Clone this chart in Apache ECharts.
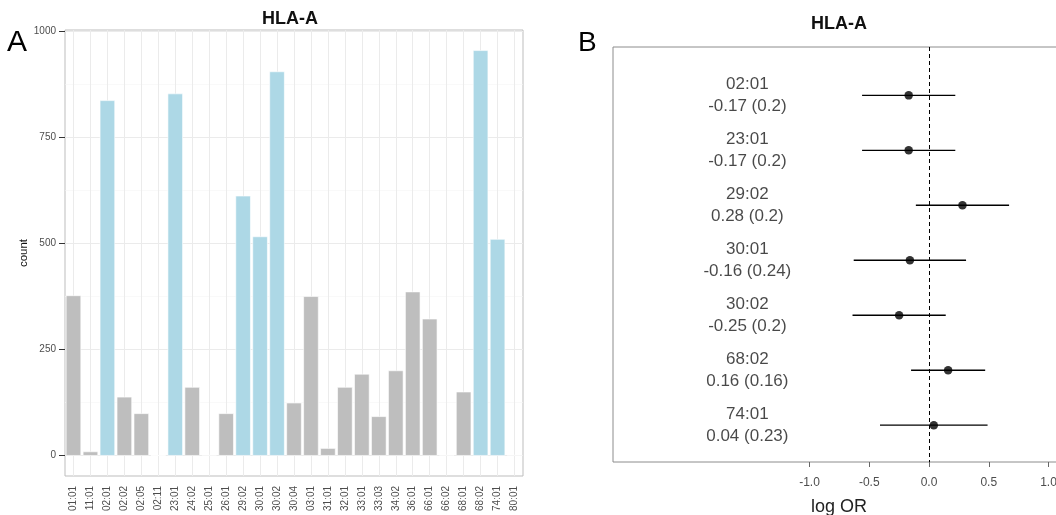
<!DOCTYPE html>
<html><head><meta charset="utf-8">
<script src="https://cdn.jsdelivr.net/npm/echarts@6/dist/echarts.min.js"></script>
<style>html,body{margin:0;padding:0;background:#fff}#c{width:1056px;height:515px}</style>
</head><body><div id="c"></div>
<script>
// ---- Panel A: allele counts ----
const categories = ['01:01','11:01','02:01','02:02','02:05','02:11','23:01','24:02','25:01','26:01','29:02','30:01','30:02','30:04','03:01','31:01','32:01','33:01','33:03','34:02','36:01','66:01','66:02','68:01','68:02','74:01','80:01'];
const counts = [378,10,838,139,100,1,854,162,2,100,613,517,906,125,376,18,162,193,93,201,387,323,2,151,956,511,2];
const highlighted = ['02:01','23:01','29:02','30:01','30:02','68:02','74:01'];
const countTicks = [0,250,500,750,1000];
const countMinorLines = [125,375,625,875];

// ---- Panel B: forest plot ----
const alleles = ['02:01','23:01','29:02','30:01','30:02','68:02','74:01'];
const logOR = [-0.17,-0.17,0.28,-0.16,-0.25,0.16,0.04];
const se = [0.2,0.2,0.2,0.24,0.2,0.16,0.23];
const ciLow = [-0.56,-0.56,-0.11,-0.63,-0.64,-0.15,-0.41];
const ciHigh = [0.22,0.22,0.67,0.31,0.14,0.47,0.49];
const orTicks = [-1.0,-0.5,0.0,0.5,1.0];

const FONT = '"Liberation Sans", Arial, Helvetica, sans-serif';
const labelX = -1.52;

const chart = echarts.init(document.getElementById('c'), null, {renderer: 'canvas'});

const gridLineData = []
  .concat(countTicks.map(v => ({yAxis: v, lineStyle: {color: '#ebebeb', width: 1, type: 'solid'}})))
  .concat(countMinorLines.map(v => ({yAxis: v, lineStyle: {color: '#f5f5f5', width: 0.6, type: 'solid'}})))
  .concat(categories.map(c => ({xAxis: c, lineStyle: {color: '#ebebeb', width: 1, type: 'solid'}})));

const option = {
  animation: false,
  textStyle: {fontFamily: FONT},
  title: [
    {text: 'HLA-A', left: 290, top: 10, textAlign: 'center', padding: 0,
     textStyle: {fontSize: 18, fontWeight: 'bold', color: '#111', fontFamily: FONT}},
    {text: 'HLA-A', left: 839, top: 15, textAlign: 'center', padding: 0,
     textStyle: {fontSize: 18, fontWeight: 'bold', color: '#111', fontFamily: FONT}},
    {text: 'A', left: 7, top: 28, padding: 0,
     textStyle: {fontSize: 30, fontWeight: 'normal', color: '#000', fontFamily: FONT}},
    {text: 'B', left: 578, top: 29, padding: 0,
     textStyle: {fontSize: 28, fontWeight: 'normal', color: '#000', fontFamily: FONT}}
  ],
  grid: [
    {left: 65, top: 30, width: 458, height: 446, show: true, borderColor: '#bdbdbd', borderWidth: 1,
     containLabel: false, outerBoundsMode: 'none'},
    {left: 613, top: 47, width: 466, height: 415, show: true, borderColor: '#8c8c8c', borderWidth: 1,
     containLabel: false, outerBoundsMode: 'none'}
  ],
  xAxis: [
    {type: 'category', gridIndex: 0, data: categories,
     axisLine: {show: false},
     axisTick: {show: true, alignWithLabel: true, length: 6, lineStyle: {color: '#333'}},
     axisLabel: {rotate: 90, interval: 0, fontSize: 10, color: '#4d4d4d', margin: 10, fontFamily: FONT},
     splitLine: {show: false}},
    {type: 'value', gridIndex: 1, min: -2.644, max: 1.255,
     axisLine: {show: false},
     axisTick: {show: true, customValues: orTicks, length: 5, lineStyle: {color: '#666'}},
     axisLabel: {customValues: orTicks, formatter: v => Number(v).toFixed(1), fontSize: 12, color: '#4d4d4d', margin: 15, fontFamily: FONT},
     splitLine: {show: false},
     name: 'log OR', nameLocation: 'middle', nameGap: 36,
     nameTextStyle: {fontSize: 18, color: '#222', padding: [0, 14, 0, 0], fontFamily: FONT}}
  ],
  yAxis: [
    {type: 'value', gridIndex: 0, min: -47.8, max: 1003.8,
     axisLine: {show: false},
     axisTick: {show: true, customValues: countTicks, length: 6, lineStyle: {color: '#333'}},
     axisLabel: {customValues: countTicks, formatter: v => String(v), fontSize: 10, color: '#4d4d4d', margin: 9, fontFamily: FONT},
     splitLine: {show: false},
     name: 'count', nameLocation: 'middle', nameGap: 29, nameRotate: 90,
     nameTextStyle: {fontSize: 11.5, color: '#111', fontFamily: FONT}},
    {type: 'value', gridIndex: 1, inverse: true, min: 0.12, max: 7.67, show: false,
     splitLine: {show: false}}
  ],
  series: [
    {type: 'line', xAxisIndex: 0, yAxisIndex: 0, data: counts, symbol: 'none', silent: true, z: 1,
     lineStyle: {width: 0, opacity: 0},
     markLine: {z: 1, silent: true, symbol: ['none', 'none'], label: {show: false}, animation: false, data: gridLineData}},
    {type: 'bar', xAxisIndex: 0, yAxisIndex: 0, barWidth: '90%', z: 2,
     itemStyle: {borderColor: '#ffffff', borderWidth: 0.6},
     data: counts.map((v, i) => ({value: v, itemStyle: {color: highlighted.includes(categories[i]) ? '#add8e6' : '#bebebe'}}))},
    {type: 'custom', xAxisIndex: 1, yAxisIndex: 1, z: 3,
     data: alleles.map((a, i) => [ciLow[i], ciHigh[i], i + 1]),
     encode: {x: [0, 1], y: 2},
     renderItem: (params, api) => {
       const p1 = api.coord([api.value(0), api.value(2)]);
       const p2 = api.coord([api.value(1), api.value(2)]);
       return {type: 'line', shape: {x1: p1[0], y1: p1[1], x2: p2[0], y2: p2[1]},
               style: {stroke: '#000', lineWidth: 1.4}};
     }},
    {type: 'scatter', xAxisIndex: 1, yAxisIndex: 1, z: 4, symbolSize: 8.5,
     itemStyle: {color: '#000'},
     data: alleles.map((a, i) => [logOR[i], i + 1]),
     markLine: {silent: true, symbol: ['none', 'none'], label: {show: false}, animation: false,
       lineStyle: {type: [4, 3], color: '#000', width: 1},
       data: [{xAxis: 0}]}},
    {type: 'scatter', xAxisIndex: 1, yAxisIndex: 1, z: 4, symbolSize: 1, silent: true,
     itemStyle: {color: 'transparent'},
     data: alleles.map((a, i) => ({value: [labelX, i + 1], name: a})),
     label: {show: true, position: 'inside', fontSize: 17, lineHeight: 22, color: '#1a1a1a', fontFamily: FONT,
       align: 'center', verticalAlign: 'middle',
       formatter: p => alleles[p.dataIndex] + '\n' + logOR[p.dataIndex] + ' (' + se[p.dataIndex] + ')'}}
  ]
};
chart.setOption(option);
</script>
</body></html>
